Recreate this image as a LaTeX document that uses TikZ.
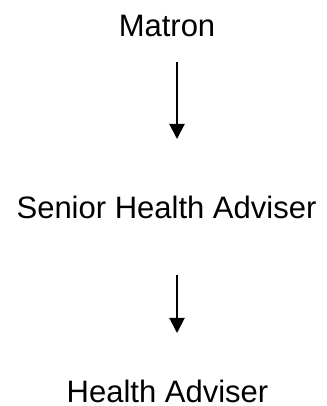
\documentclass[tikz,border=0pt]{standalone}
\usepackage{fontspec}
\setmainfont{Liberation Sans}
\usetikzlibrary{arrows.meta}
\begin{document}
\begin{tikzpicture}[x=1pt,y=1pt,
  lbl/.style={inner sep=0pt,anchor=base,font=\fontsize{31}{37}\selectfont},
  conn/.style={line width=2pt,-{Triangle[width=15pt,length=15pt]}}]
\useasboundingbox (0,0) rectangle (326,406);
\node[lbl] (matron) at (167,369) {Matron};
\node[lbl] (senior) at (166.5,187) {Senior Health Adviser};
\node[lbl] (health) at (167.5,3) {Health Adviser};
\coordinate (a1s) at (177,344);
\coordinate (a1e) at (177,267);
\coordinate (a2s) at (177,131);
\coordinate (a2e) at (177,73);
\draw[conn] (a1s) -- (a1e);
\draw[conn] (a2s) -- (a2e);
\end{tikzpicture}
\end{document}
